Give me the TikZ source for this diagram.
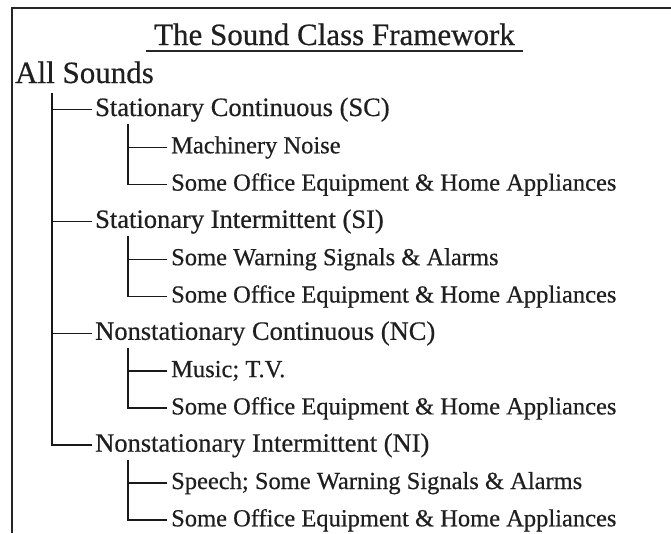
\documentclass[tikz,border=0pt]{standalone}
\usepackage{fontspec}
\setmainfont{Liberation Serif}[FakeBold=0.5]
\usetikzlibrary{calc}

\begin{document}
\begin{tikzpicture}[
    x=1pt, y=-1pt,
    frame/.style={draw=black!85, line width=1.6pt},
    rule/.style={draw=black!85, line width=1.6pt},
    trunk/.style={draw=black!90, line width=1.8pt},
    twig/.style={draw=black!90, line width=1.5pt},
    titlelbl/.style={font=\fontsize{31}{34}\selectfont, text=black!88, inner xsep=8pt, inner ysep=0pt, anchor=base},
    rootlbl/.style={font=\fontsize{31}{34}\selectfont, text=black!88, inner sep=0pt, anchor=base west},
    classlbl/.style={font=\fontsize{26.5}{30}\selectfont, text=black!88, inner xsep=3pt, inner ysep=1pt, anchor=base west},
    itemlbl/.style={font=\fontsize{24.5}{28}\selectfont, text=black!88, inner xsep=4pt, inner ysep=1pt, anchor=base west},
]
\useasboundingbox (0,0) rectangle (671,533);
% ============================================================
% Frame (left and top edges only)
% ============================================================
\coordinate (frametl) at (12,8);
\coordinate (frametr) at (671,8);
\coordinate (framebl) at (12,533);
\draw[frame] (framebl) -- (frametl) -- (frametr);
% --- title ---
\node[titlelbl] (title) at (334.5,45) {The Sound Class Framework};
\draw[rule] ([yshift=-6pt]title.base west) -- ([yshift=-6pt]title.base east);
% ============================================================
% Root and the four sound classes
% ============================================================
\node[rootlbl] (root) at (15,83) {All Sounds};
\coordinate (stem) at (52,93);
\node[classlbl] (sc) at (92,116) {Stationary Continuous (SC)};
\node[classlbl] (si) at (92,227.9) {Stationary Intermittent (SI)};
\node[classlbl] (nc) at (92,339.8) {Nonstationary Continuous (NC)};
\node[classlbl] (ni) at (92,451.7) {Nonstationary Intermittent (NI)};
% main trunk
\draw[trunk] (stem) |- (ni.west);
\foreach \cls in {sc,si,nc} {
    \draw[twig] (stem |- \cls.west) -- (\cls.west);
}
% ============================================================
% Examples under each class
% ============================================================
\foreach \cls/\y/\first in {sc/116/Machinery Noise, si/227.9/Some Warning Signals \& Alarms, nc/339.8/{Music; T.V.}, ni/451.7/{Speech; Some Warning Signals \& Alarms}} {
    \coordinate (\cls-stem) at (128,\y+8);
    \node[itemlbl] (\cls-a) at (167,\y+37.3) {\first};
    \node[itemlbl] (\cls-b) at (167,\y+74.6) {Some Office Equipment \& Home Appliances};
    \draw[trunk] (\cls-stem) |- (\cls-b.west);
    \draw[twig] (\cls-stem |- \cls-a.west) -- (\cls-a.west);
}
\end{tikzpicture}
\end{document}
